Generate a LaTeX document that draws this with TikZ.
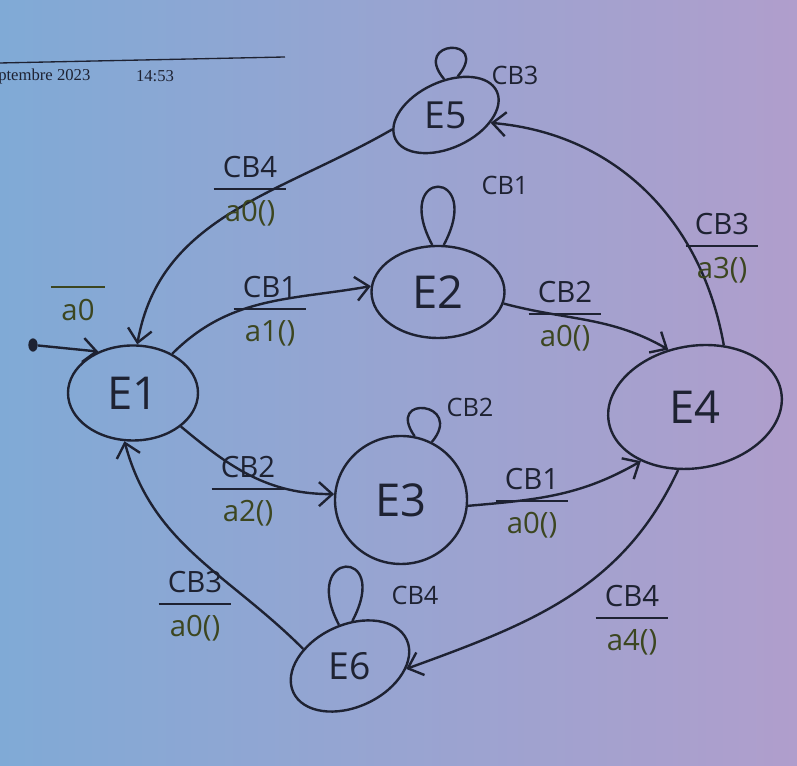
\documentclass[tikz,border=0pt]{standalone}
\usepackage{fontspec}
\setmainfont{Open Sans}
\newfontfamily\hdrfont{Liberation Serif}
\usetikzlibrary{shapes.geometric,arrows.meta}
\definecolor{ink}{RGB}{30,34,50}
\definecolor{outc}{RGB}{60,70,32}
\definecolor{bgl}{RGB}{128,170,214}
\definecolor{bgr}{RGB}{176,158,204}
\setlength{\arrayrulewidth}{1.5pt}
\newcommand\trans[2]{\begin{tabular}{@{\hspace{7pt}}c@{\hspace{7pt}}}#1\\[1pt]\hline\rule{0pt}{1.05em}\textcolor{outc}{#2}\end{tabular}}
\begin{document}
\begin{tikzpicture}[x=0.75pt,y=0.75pt,
  state/.style={ellipse, draw=ink, line width=1.8pt, inner sep=0pt, text=ink, font=\fontsize{34}{36}\selectfont},
  smallstate/.style={state, font=\fontsize{28}{30}\selectfont},
  edge/.style={draw=ink, line width=1.8pt, -{Straight Barb[length=10pt,width=18pt,line width=1.8pt]}},
  loopline/.style={draw=ink, line width=1.8pt},
  lbl/.style={text=ink, inner sep=0pt, font=\fontsize{22}{24}\selectfont},
  looplbl/.style={text=ink, inner sep=0pt, font=\fontsize{19}{21}\selectfont},
  hdr/.style={text=ink, inner sep=0pt, font=\hdrfont\fontsize{12.5}{14}\selectfont}]
\fill[left color=bgl, right color=bgr] (0,0) rectangle (797,766);
\useasboundingbox (0,0) rectangle (797,766);

% header
\coordinate (h1) at (0,703);
\coordinate (h2) at (285,709);
\draw[ink, line width=1pt] (h1) -- (h2);
\node[hdr, anchor=west] (date) at (-2,689) {ptembre 2023};
\node[hdr] (time) at (155,690) {14:53};

% states
\node[state, minimum width=130*0.75pt, minimum height=95*0.75pt] (E1) at (133,373) {E1};
\node[state, minimum width=133*0.75pt, minimum height=92*0.75pt] (E2) at (438,474) {E2};
\node[state, minimum width=132*0.75pt, minimum height=128*0.75pt] (E3) at (401,266) {E3};
\node[state, minimum width=175*0.75pt, minimum height=122*0.75pt, rotate=10] (E4) at (695,359) {\rotatebox{-10}{E4}};
\node[smallstate, minimum width=112*0.75pt, minimum height=66*0.75pt, rotate=25] (E5) at (446,651) {\rotatebox{-25}{E5}};
\node[smallstate, minimum width=125*0.75pt, minimum height=82*0.75pt, rotate=25] (E6) at (350,100) {\rotatebox{-25}{E6}};

% initial
\node[ellipse, fill=ink, minimum width=7pt, minimum height=10pt, inner sep=0pt] (init) at (33,421) {};
\draw[edge] (init) -- (E1.130);
\node[lbl, text=outc] (l0) at (78,458) {\begin{tabular}{@{\hspace{8pt}}c@{\hspace{8pt}}}\hline\rule{0pt}{1.1em}a0\end{tabular}};

% transitions
\draw[edge] (E1.45) to[out=45,in=190] (E2.175);
\draw[edge] (E2.-10) to[out=-15,in=150] (E4.105);
\draw[edge] (E4.55) to[out=100,in=-5] (E5.-35);
\draw[edge] (E5.170) to[out=210,in=80] (E1.85);
\draw[edge] (E1.-35) to[out=-40,in=180] (E3.175);
\draw[edge] (E3.-5) to[out=5,in=210] (E4.215);
\draw[edge] (E4.-115) to[out=245,in=20] (E6.-28);
\draw[edge] (E6.135) to[out=135,in=-75] (E1.-100);

% self loops
\draw[loopline] (E2.97) .. controls +(118:88) and +(62:88) .. (E2.83);
\draw[loopline] (E5.68) .. controls +(130:52) and +(50:52) .. (E5.48);
\draw[loopline] (E3.78) .. controls +(125:52) and +(50:52) .. (E3.62);
\draw[loopline] (E6.80) .. controls +(118:85) and +(62:85) .. (E6.62);

% loop labels
\node[looplbl] (c5) at (515,691) {CB3};
\node[looplbl] (c2) at (505,581) {CB1};
\node[looplbl] (c3) at (470,359) {CB2};
\node[looplbl] (c6) at (415,171) {CB4};

% transition labels
\node[lbl] (t12) at (270,453) {\trans{CB1}{a1()}};
\node[lbl] (t24) at (565,448) {\trans{CB2}{a0()}};
\node[lbl] (t45) at (722,516) {\trans{CB3}{a3()}};
\node[lbl] (t51) at (250,573) {\trans{CB4}{a0()}};
\node[lbl] (t13) at (248,273) {\trans{CB2}{a2()}};
\node[lbl] (t34) at (532,261) {\trans{CB1}{a0()}};
\node[lbl] (t46) at (632,144) {\trans{CB4}{a4()}};
\node[lbl] (t61) at (195,158) {\trans{CB3}{a0()}};
\end{tikzpicture}
\end{document}
